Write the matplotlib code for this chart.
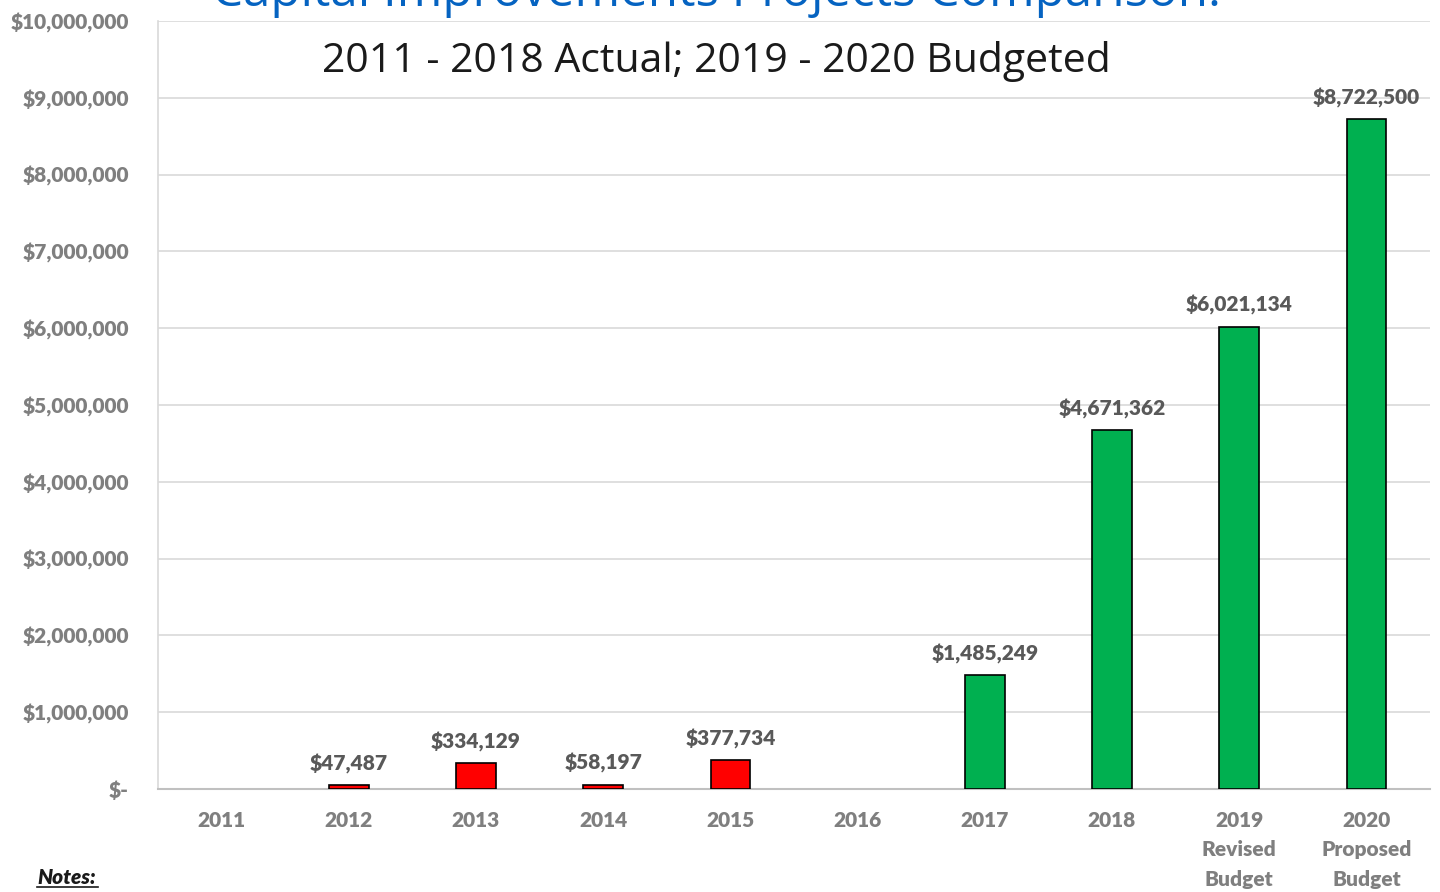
import matplotlib
matplotlib.use("Agg")
import matplotlib.pyplot as plt
from matplotlib.lines import Line2D

categories = ["2011", "2012", "2013", "2014", "2015", "2016", "2017", "2018",
              "2019\nRevised\nBudget", "2020\nProposed\nBudget"]
values = [0, 47487, 334129, 58197, 377734, 0, 1485249, 4671362, 6021134, 8722500]
bar_colors = ["#FF0000"] * 6 + ["#00B050"] * 4
yticks = [0, 1e6, 2e6, 3e6, 4e6, 5e6, 6e6, 7e6, 8e6, 9e6, 10e6]
title = "Capital Improvements Projects Comparison:"
subtitle = "2011 - 2018 Actual; 2019 - 2020 Budgeted"

gray = "#7F7F7F"
fig = plt.figure(figsize=(14.4, 8.92), dpi=100)
ax = fig.add_axes([158/1440, 1 - 789/892, 1272/1440, 768/892])

x = list(range(len(categories)))
ax.bar(x, values, width=0.31, color=bar_colors, edgecolor="black",
       linewidth=[1.2 if v > 0 else 0 for v in values], zorder=3)
ax.set_xlim(-0.5, len(categories) - 0.5)
ax.set_ylim(0, 10e6)
ax.set_yticks(yticks)

def fmt(v):
    return "$-" if v == 0 else "${:,.0f}".format(v)

ax.set_yticklabels([fmt(v) for v in yticks])
ax.set_xticks(x)
ax.set_xticklabels(categories, linespacing=1.64)
for lab in ax.get_yticklabels() + ax.get_xticklabels():
    lab.set_fontfamily("Lato")
    lab.set_fontweight("heavy")
    lab.set_fontsize(15)
    lab.set_color(gray)
for lab in ax.get_xticklabels():
    lab.set_verticalalignment("top")
ax.tick_params(axis="both", length=0)
ax.tick_params(axis="y", pad=21)
ax.tick_params(axis="x", pad=16)

ax.grid(axis="y", color="#D9D9D9", linewidth=1.2, zorder=0)
for s in ["top", "right"]:
    ax.spines[s].set_visible(False)
ax.spines["left"].set_color("#D9D9D9")
ax.spines["bottom"].set_color("#C0C0C0")
ax.spines["left"].set_linewidth(1.2)
ax.spines["bottom"].set_linewidth(1.5)

for xi, v in zip(x, values):
    if v > 0:
        ax.annotate(fmt(v), (xi, v), xytext=(0, 8), textcoords="offset points",
                    ha="center", va="bottom", fontfamily="Lato", fontweight="heavy",
                    fontsize=15, color="#595959", zorder=4)

fig.text(717/1440, 1 - 6/892, title, ha="center", va="baseline",
         fontfamily="Open Sans", fontsize=35.5, color="#0563C1")
fig.text(716/1440, 1 - 61/892, subtitle, ha="center", va="center",
         fontfamily="Open Sans", fontsize=29.5, color="#1A1A1A")

fig.text(37/1440, 1 - 877/892, "Notes:", ha="left", va="center",
         fontfamily="Lato", fontweight="heavy", fontstyle="italic",
         fontsize=15, color="#1A1A1A")
fig.add_artist(Line2D([37/1440, 98/1440], [1 - 887/892, 1 - 887/892],
                      color="#1A1A1A", linewidth=1.2))

fig.savefig("out.png", dpi=100)
